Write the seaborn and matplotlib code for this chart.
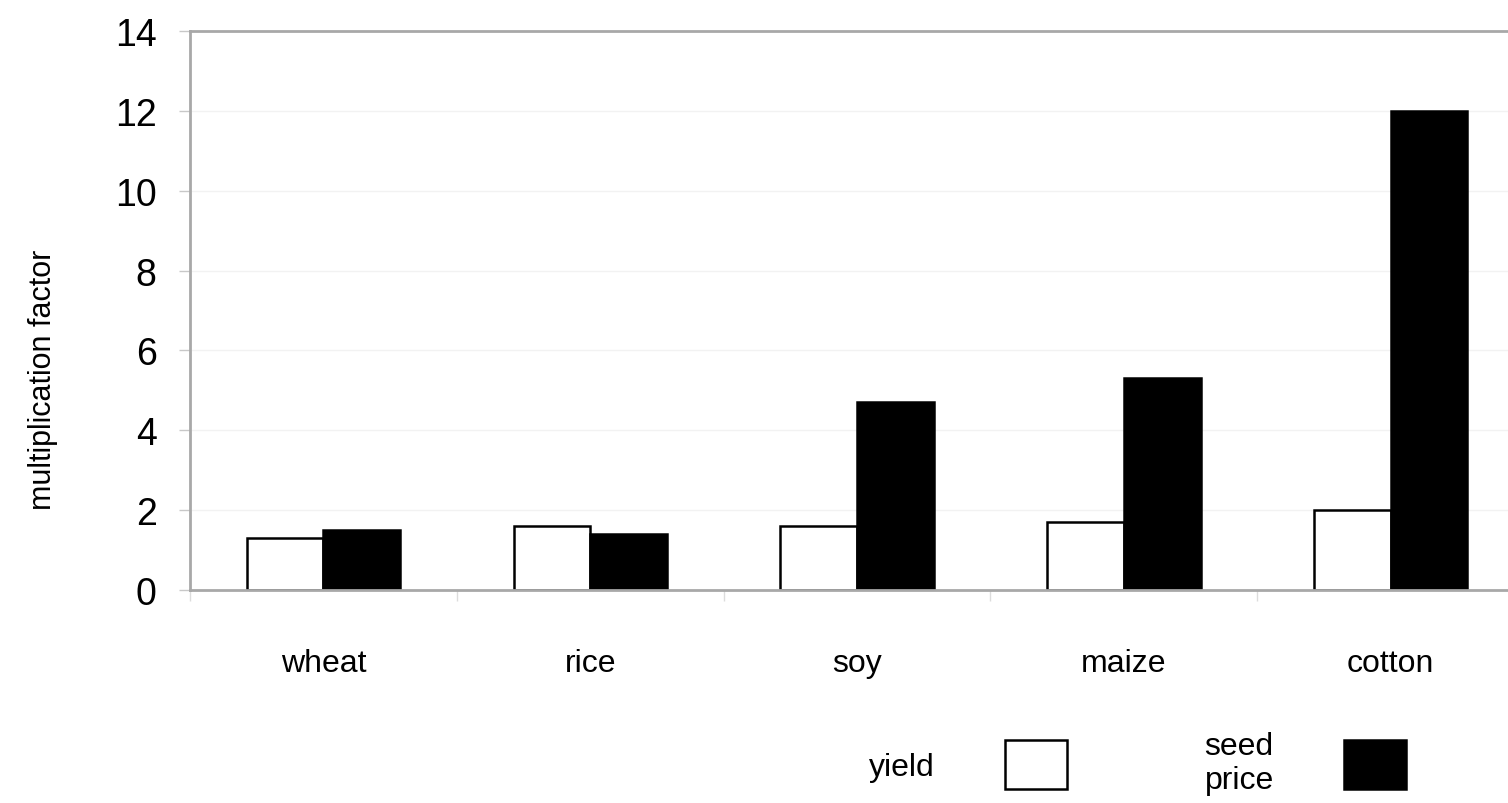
import matplotlib
matplotlib.use("Agg")
from matplotlib import pyplot as plt
import pandas as pd
import seaborn as sns

crops = ["wheat", "rice", "soy", "maize", "cotton"]
yield_factor = [1.3, 1.6, 1.6, 1.7, 2.0]
seed_price_factor = [1.5, 1.4, 4.7, 5.3, 12.0]
series_labels = ["yield", "seed\nprice"]
y_ticks = [0, 2, 4, 6, 8, 10, 12, 14]

df = pd.DataFrame({
    "crop": crops * 2,
    "factor": yield_factor + seed_price_factor,
    "series": [series_labels[0]] * len(crops) + [series_labels[1]] * len(crops),
})

sns.set_style("white")
plt.rcParams["font.family"] = ["Liberation Sans", "DejaVu Sans"]
plt.rcParams["text.color"] = "black"

fig = plt.figure(figsize=(15.08, 8.04), dpi=100)
ax = fig.add_axes([0.126, 0.265, 0.874, 0.695])

sns.barplot(data=df, x="crop", y="factor", hue="series",
            palette=["white", "black"], edgecolor="black", linewidth=1.8,
            width=0.575, gap=0, ax=ax, legend=True)

ax.set_ylim(0, 14)
ax.set_xlim(-0.5, 4.44)
ax.set_yticks(y_ticks)
ax.yaxis.grid(True, color="#f2f2f2", linewidth=1)
ax.set_axisbelow(True)

ax.set_yticklabels([str(t) for t in y_ticks], fontsize=27)
ax.tick_params(axis="y", length=8, width=1, color="#c8c8c8", pad=16, left=True,
               labelcolor="black")
ax.tick_params(axis="x", which="major", length=0, pad=42, labelsize=23,
               labelcolor="black")
ax.set_xticks([i + 0.5 for i in range(-1, len(crops) - 1)], minor=True)
ax.tick_params(axis="x", which="minor", length=8, width=1, color="#dcdcdc", bottom=True)

ax.set_xlabel("")
ax.set_ylabel("multiplication factor", fontsize=22, color="black")
ax.yaxis.set_label_coords(-0.1, 0.377)

for side in ["top", "left", "bottom"]:
    ax.spines[side].set_color("#a8a8a8")
    ax.spines[side].set_linewidth(2)
ax.spines["right"].set_visible(False)

handles, labels = ax.get_legend_handles_labels()
ax.legend(handles, labels, ncol=2, markerfirst=False, frameon=False,
          handlelength=1.95, handleheight=2.0, handletextpad=2.2,
          columnspacing=4.3, fontsize=23, loc="center",
          bbox_to_anchor=(0.719, -0.31))

fig.savefig("out.png", dpi=100)
